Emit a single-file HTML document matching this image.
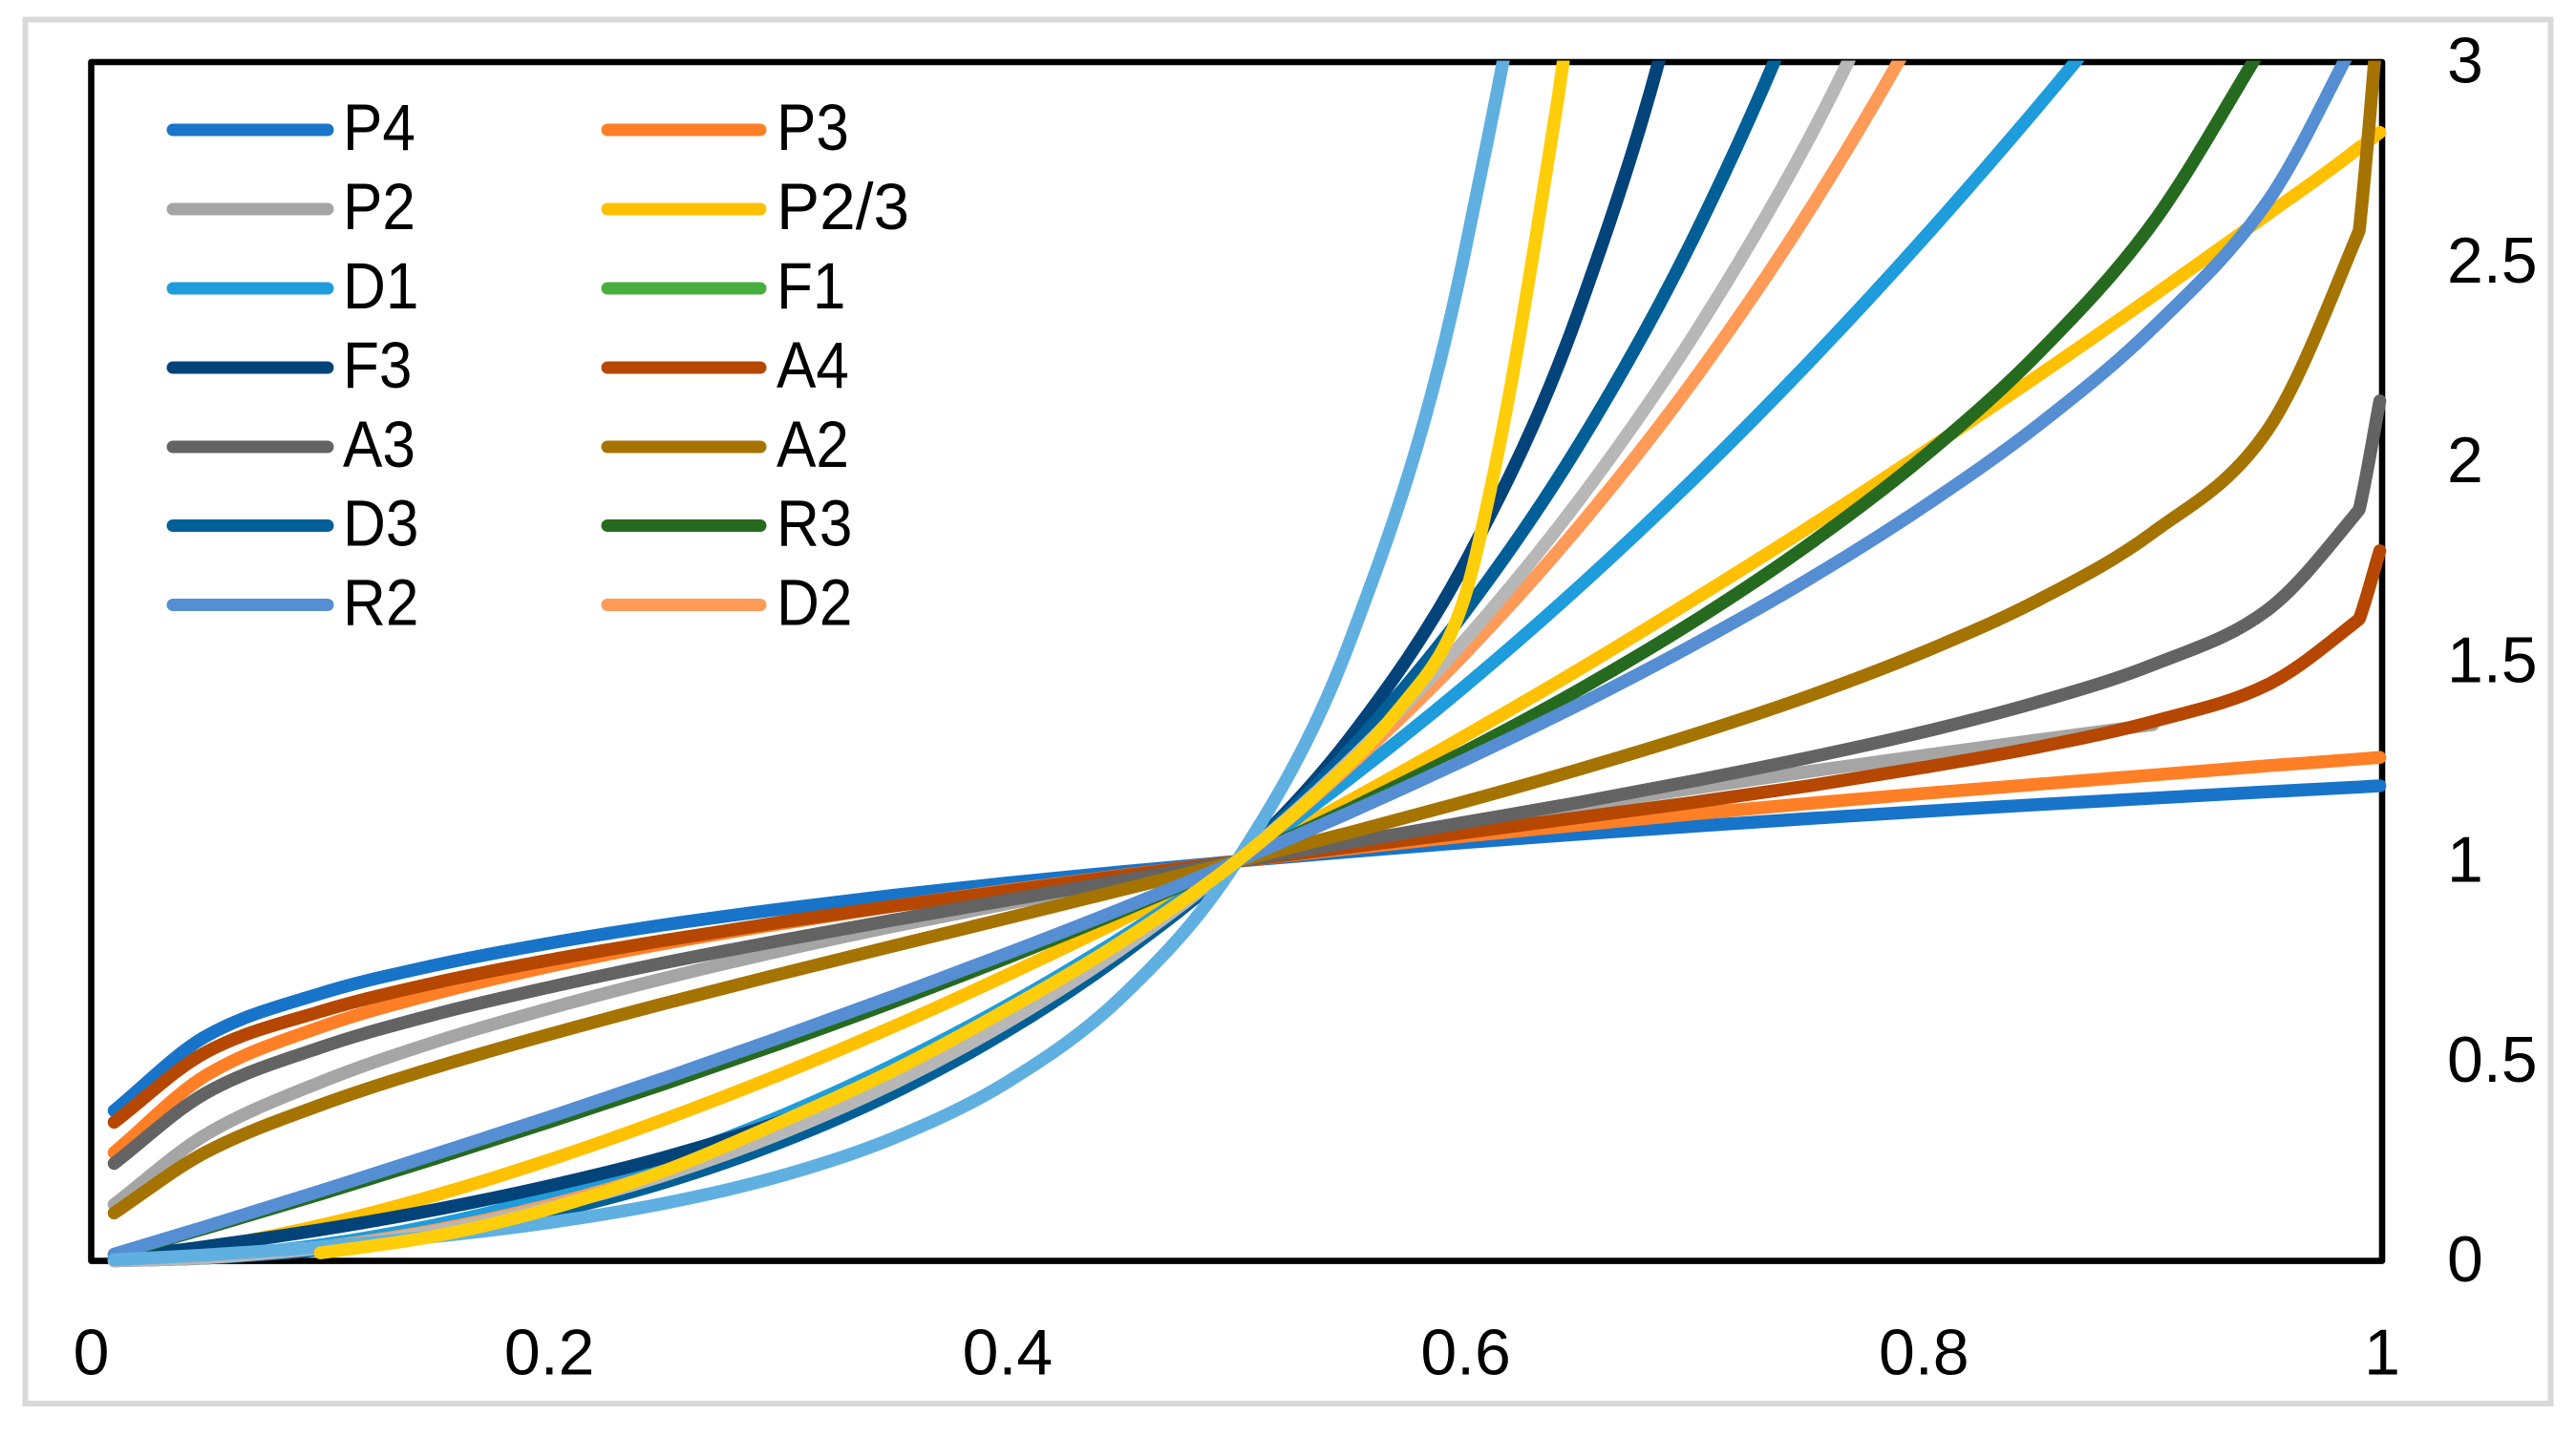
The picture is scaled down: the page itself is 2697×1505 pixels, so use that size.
<!DOCTYPE html>
<html lang="en">
<head>
<meta charset="utf-8">
<title>Master plot curves</title>
<style>
html,body{margin:0;padding:0;background:#fff;width:2697px;height:1505px;overflow:hidden}
svg{display:block}
text{font-family:"Liberation Sans",sans-serif;font-size:68px;fill:#000}
.legend-text{font-size:69px}
.line{fill:none;stroke-width:13.5;stroke-linecap:round;stroke-linejoin:bevel}
.key{fill:none;stroke-width:13;stroke-linecap:round}
.p4{stroke:#1874c9}.p3{stroke:#ff7f27}.p2{stroke:#a5a5a5}.p23{stroke:#ffc000}
.d1{stroke:#1e9cdb}.f1{stroke:#47af3d}.f3{stroke:#02437a}.a4{stroke:#b54700}
.a3{stroke:#636363}.a2{stroke:#a57300}.d3{stroke:#005f96}.r3{stroke:#266a1f}
.r2{stroke:#558ed2}.d2{stroke:#ff9a57}.d4{stroke:#b7b7b7}.ly{stroke:#ffce0a}.lb{stroke:#5fb0e1}
</style>
</head>
<body>
<svg id="chart" xmlns="http://www.w3.org/2000/svg" width="2697" height="1505" viewBox="0 0 2697 1505">
  <defs>
    <clipPath id="plot-clip"><rect x="0" y="63.5" width="2697" height="1400"/></clipPath>
  </defs>
  <rect x="26.5" y="20.5" width="2644" height="1449.5" fill="#fff" stroke="#d9d9d9" stroke-width="6"/>
  <rect x="95.5" y="65" width="2398.5" height="1255.6" fill="none" stroke="#000" stroke-width="6.6" stroke-linejoin="round"/>
  <g id="x-ticks"></g>
  <g id="y-ticks"></g>
  <g id="series" clip-path="url(#plot-clip)"></g>
  <g>
    <g><line class="key p4" x1="181" x2="343" y1="136" y2="136"/><text class="legend-text" transform="translate(359,157) scale(.9,1)">P4</text></g>
    <g><line class="key p3" x1="636" x2="796" y1="136" y2="136"/><text class="legend-text" transform="translate(813,157) scale(.9,1)">P3</text></g>
    <g><line class="key p2" x1="181" x2="343" y1="219" y2="219"/><text class="legend-text" transform="translate(359,240) scale(.9,1)">P2</text></g>
    <g><line class="key p23" x1="636" x2="796" y1="219" y2="219"/><text class="legend-text" transform="translate(813,240) scale(.98,1)">P2/3</text></g>
    <g><line class="key d1" x1="181" x2="343" y1="302" y2="302"/><text class="legend-text" transform="translate(359,323) scale(.9,1)">D1</text></g>
    <g><line class="key f1" x1="636" x2="796" y1="302" y2="302"/><text class="legend-text" transform="translate(813,323) scale(.9,1)">F1</text></g>
    <g><line class="key f3" x1="181" x2="343" y1="385" y2="385"/><text class="legend-text" transform="translate(359,406) scale(.9,1)">F3</text></g>
    <g><line class="key a4" x1="636" x2="796" y1="385" y2="385"/><text class="legend-text" transform="translate(813,406) scale(.9,1)">A4</text></g>
    <g><line class="key a3" x1="181" x2="343" y1="468" y2="468"/><text class="legend-text" transform="translate(359,489) scale(.9,1)">A3</text></g>
    <g><line class="key a2" x1="636" x2="796" y1="468" y2="468"/><text class="legend-text" transform="translate(813,489) scale(.9,1)">A2</text></g>
    <g><line class="key d3" x1="181" x2="343" y1="550.5" y2="550.5"/><text class="legend-text" transform="translate(359,571.5) scale(.9,1)">D3</text></g>
    <g><line class="key r3" x1="636" x2="796" y1="550.5" y2="550.5"/><text class="legend-text" transform="translate(813,571.5) scale(.9,1)">R3</text></g>
    <g><line class="key r2" x1="181" x2="343" y1="633.5" y2="633.5"/><text class="legend-text" transform="translate(359,654.5) scale(.9,1)">R2</text></g>
    <g><line class="key d2" x1="636" x2="796" y1="633.5" y2="633.5"/><text class="legend-text" transform="translate(813,654.5) scale(.9,1)">D2</text></g>
  </g>
</svg>
<script>
const xTickLabels = ["0","0.2","0.4","0.6","0.8","1"];
const xTickValues = [0,0.2,0.4,0.6,0.8,1];
const yTickLabels = ["0","0.5","1","1.5","2","2.5","3"];
const yTickValues = [0,0.5,1,1.5,2,2.5,3];

const alpha = [0.01,0.05,0.1,0.15,0.2,0.25,0.3,0.35,0.4,0.45,0.5,0.55,0.6,0.65,0.7,0.75,0.8,0.85,0.9,0.95,0.99,0.999];
const alphaYellow = [0.1,0.15,0.2,0.25,0.3,0.35,0.4,0.45,0.5,0.55,0.575,0.59,0.6,0.61,0.62,0.63,0.64,0.65];

const valuesP4 = [0.376,0.562,0.669,0.74,0.795,0.841,0.88,0.915,0.946,0.974,1,1.024,1.047,1.068,1.088,1.107,1.125,1.142,1.158,1.174,1.186,1.189];
const valuesP3 = [0.271,0.464,0.585,0.669,0.737,0.794,0.843,0.888,0.928,0.965,1,1.032,1.063,1.091,1.119,1.145,1.17,1.193,1.216,1.239,1.256,1.26];
const valuesP2 = [0.141,0.316,0.447,0.548,0.632,0.707,0.775,0.837,0.894,0.949,1,1.049,1.095,1.14,1.183,1.225,1.265,1.304,1.342];
const valuesP23 = [0.003,0.032,0.089,0.164,0.253,0.354,0.465,0.586,0.716,0.854,1,1.154,1.315,1.482,1.657,1.837,2.024,2.216,2.415,2.619,2.786,2.824];
const valuesD1 = [0.0004,0.01,0.04,0.09,0.16,0.25,0.36,0.49,0.64,0.81,1,1.21,1.44,1.69,1.96,2.25,2.56,2.89,3.24,3.61];
const valuesF1 = [];
const valuesF3 = [0.007,0.036,0.078,0.128,0.188,0.259,0.347,0.456,0.593,0.769,1,1.313,1.75,2.388,3.37,5];
const valuesA4 = [0.347,0.522,0.624,0.696,0.753,0.802,0.847,0.888,0.926,0.964,1,1.036,1.072,1.11,1.148,1.189,1.235,1.286,1.35,1.442,1.606,1.777];
const valuesA3 = [0.244,0.42,0.534,0.617,0.685,0.746,0.801,0.853,0.903,0.952,1,1.048,1.098,1.148,1.202,1.26,1.324,1.399,1.492,1.629,1.88,2.152];
const valuesA2 = [0.12,0.272,0.39,0.484,0.567,0.644,0.717,0.788,0.858,0.929,1,1.073,1.15,1.231,1.318,1.414,1.524,1.654,1.823,2.079,2.578,3.157];
const valuesD3 = [0.0003,0.007,0.028,0.065,0.121,0.196,0.295,0.42,0.576,0.767,1,1.283,1.627,2.048,2.567,3.217,4.05];
const valuesR3 = [0.016,0.082,0.167,0.256,0.348,0.443,0.543,0.648,0.759,0.876,1,1.133,1.276,1.431,1.602,1.794,2.013,2.272,2.598,3.06];
const valuesR2 = [0.017,0.086,0.175,0.267,0.36,0.457,0.558,0.662,0.77,0.882,1,1.124,1.255,1.394,1.544,1.707,1.888,2.092,2.335,2.651,3.073];
const valuesD2 = [0.0003,0.008,0.034,0.077,0.14,0.223,0.328,0.456,0.61,0.79,1,1.243,1.522,1.842,2.208,2.629,3.116,3.685];
const valuesGrayUnlabelled = [0.0003,0.008,0.032,0.073,0.134,0.214,0.317,0.444,0.598,0.782,1,1.256,1.556,1.908,2.321,2.81,3.396];
const valuesBlueUnlabelled = [0.003,0.015,0.035,0.061,0.096,0.144,0.211,0.307,0.448,0.662,1,1.559,2.537,4.376,8.2];
const valuesYellowUnlabelled = [0.02,0.062,0.13,0.225,0.345,0.476,0.63,0.8,1,1.25,1.41,1.53,1.67,1.91,2.2,2.54,2.9,3.3];

const seriesList = [
  {key:"p4", xs:alpha, ys:valuesP4},
  {key:"p3", xs:alpha, ys:valuesP3},
  {key:"p2", xs:alpha, ys:valuesP2},
  {key:"p23", xs:alpha, ys:valuesP23},
  {key:"d1", xs:alpha, ys:valuesD1},
  {key:"f1", xs:alpha, ys:valuesF1},
  {key:"f3", xs:alpha, ys:valuesF3},
  {key:"a4", xs:alpha, ys:valuesA4},
  {key:"a3", xs:alpha, ys:valuesA3},
  {key:"a2", xs:alpha, ys:valuesA2},
  {key:"d3", xs:alpha, ys:valuesD3},
  {key:"r3", xs:alpha, ys:valuesR3},
  {key:"r2", xs:alpha, ys:valuesR2},
  {key:"d2", xs:alpha, ys:valuesD2},
  {key:"d4", xs:alpha, ys:valuesGrayUnlabelled},
  {key:"lb", xs:alpha, ys:valuesBlueUnlabelled},
  {key:"ly", xs:alphaYellow, ys:valuesYellowUnlabelled}
];

const SVG_NS = "http://www.w3.org/2000/svg";
function sx(v){ return 95.5 + v * 2398.5; }
function sy(v){ return 1320.6 - v * 418.53; }

function smoothPath(xs, ys){
  const n = ys.length;
  if(n < 2) return "";
  const mIn = [], mOut = [];
  for(let i = 0; i < n; i++){
    const a = Math.max(0, i - 1), b = Math.min(n - 1, i + 1);
    const m = (ys[b] - ys[a]) / (xs[b] - xs[a]);
    mIn.push(m);
    mOut.push(m);
    if(i > 0 && i < n - 1 && (xs[i + 1] - xs[i]) < 0.5 * (xs[i] - xs[i - 1])){
      /* a much tighter sample spacing after this point draws a visible corner */
      mIn[i] = 1.1 * (ys[i] - ys[i - 1]) / (xs[i] - xs[i - 1]);
      mOut[i] = 0.8 * (ys[i + 1] - ys[i]) / (xs[i + 1] - xs[i]);
    }
  }
  let d = "M" + sx(xs[0]).toFixed(2) + " " + sy(ys[0]).toFixed(2);
  for(let i = 0; i < n - 1; i++){
    const h = (xs[i + 1] - xs[i]) / 3;
    d += " C" + sx(xs[i] + h).toFixed(2) + " " + sy(ys[i] + mOut[i] * h).toFixed(2) +
         " " + sx(xs[i + 1] - h).toFixed(2) + " " + sy(ys[i + 1] - mIn[i + 1] * h).toFixed(2) +
         " " + sx(xs[i + 1]).toFixed(2) + " " + sy(ys[i + 1]).toFixed(2);
  }
  return d;
}

const seriesGroup = document.getElementById("series");
seriesList.forEach(function(s){
  if(!s.ys.length) return;
  const el = document.createElementNS(SVG_NS, "path");
  el.setAttribute("class", "line " + s.key);
  el.setAttribute("d", smoothPath(s.xs, s.ys));
  
  
  seriesGroup.appendChild(el);
});

const xTickGroup = document.getElementById("x-ticks");
xTickLabels.forEach(function(label, i){
  const el = document.createElementNS(SVG_NS, "text");
  el.setAttribute("x", sx(xTickValues[i]));
  el.setAttribute("y", 1439.5);
  el.setAttribute("text-anchor", "middle");
  el.textContent = label;
  
  
  xTickGroup.appendChild(el);
});

const yTickGroup = document.getElementById("y-ticks");
yTickLabels.forEach(function(label, i){
  const el = document.createElementNS(SVG_NS, "text");
  el.setAttribute("x", 2562);
  el.setAttribute("y", sy(yTickValues[i]) + 21.5);
  el.textContent = label;
  
  
  yTickGroup.appendChild(el);
});
</script>
</body>
</html>
